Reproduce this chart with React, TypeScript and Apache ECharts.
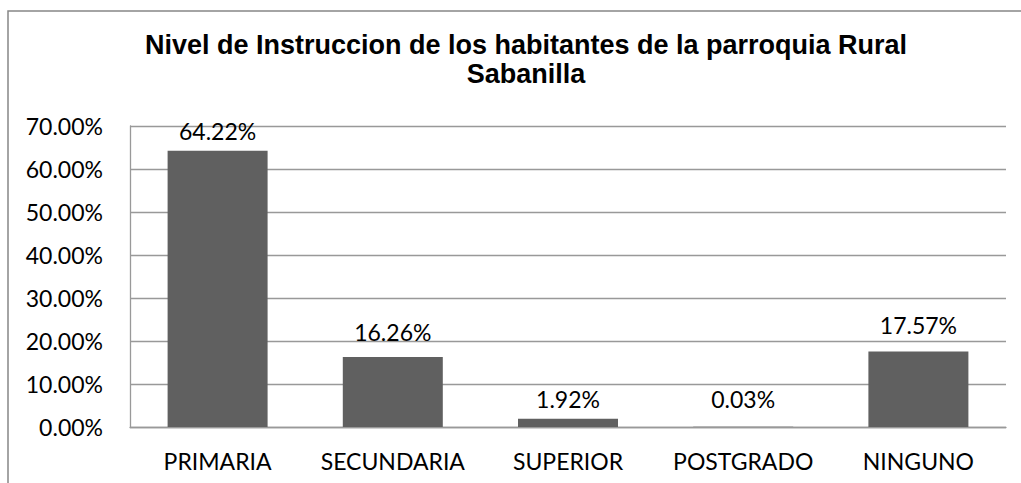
import React, { useEffect, useRef } from "react";
import * as echarts from "echarts";

const categories = ["PRIMARIA", "SECUNDARIA", "SUPERIOR", "POSTGRADO", "NINGUNO"];
const values = [64.22, 16.26, 1.92, 0.03, 17.57];
const yTicks = { min: 0, max: 70, interval: 10 };
const titleLines = [
  "Nivel de Instruccion de los habitantes de la parroquia Rural",
  "Sabanilla",
];
const labelDistances = [8, 14, 8, 16, 15];

const LABEL_FONT = "Lato, 'Open Sans', sans-serif";
const TITLE_FONT = "'Liberation Sans', Arial, sans-serif";

export default function App() {
  const ref = useRef<HTMLDivElement>(null);

  useEffect(() => {
    document.body.style.margin = "0";
    const chart = echarts.init(ref.current!, null, { renderer: "svg" });
    chart.setOption({
      animation: false,
      backgroundColor: "#ffffff",
      graphic: [
        {
          type: "rect",
          shape: { x: 8, y: 11, width: 1100, height: 600 },
          style: { fill: "none", stroke: "#878787", lineWidth: 1.5 },
          silent: true,
        },
        {
          type: "text",
          x: 526,
          y: 58,
          style: {
            text: titleLines[0],
            font: `bold 27px ${TITLE_FONT}`,
            fill: "#000000",
            textAlign: "center",
            textVerticalAlign: "bottom",
          },
        },
        {
          type: "text",
          x: 526,
          y: 87,
          style: {
            text: titleLines[1],
            font: `bold 27px ${TITLE_FONT}`,
            fill: "#000000",
            textAlign: "center",
            textVerticalAlign: "bottom",
          },
        },
      ],
      grid: { left: 130, right: 15, top: 126, bottom: 56, containLabel: false },
      xAxis: {
        type: "category",
        data: categories,
        axisLine: { show: true, lineStyle: { color: "#999999", width: 1.3 } },
        axisTick: { show: false },
        axisLabel: {
          interval: 0,
          margin: 22,
          color: "#000000",
          fontFamily: LABEL_FONT,
          fontSize: 23,
        },
      },
      yAxis: {
        type: "value",
        min: yTicks.min,
        max: yTicks.max,
        interval: yTicks.interval,
        axisLine: { show: true, lineStyle: { color: "#999999", width: 1.3 } },
        axisTick: { show: false },
        splitLine: { show: true, lineStyle: { color: "#999999", width: 1.3 } },
        axisLabel: {
          margin: 27,
          color: "#000000",
          fontFamily: LABEL_FONT,
          fontSize: 23,
          formatter: (v: number) => v.toFixed(2) + "%",
        },
      },
      series: [
        {
          type: "bar",
          barWidth: 100,
          itemStyle: { color: "#606060" },
          data: values.map((v, i) => ({
            value: v,
            label: { distance: labelDistances[i] },
          })),
          label: {
            show: true,
            position: "top",
            color: "#000000",
            fontFamily: LABEL_FONT,
            fontSize: 23,
            formatter: (p: any) => Number(p.value).toFixed(2) + "%",
          },
        },
      ],
    });
    return () => chart.dispose();
  }, []);

  return <div ref={ref} style={{ width: 1021, height: 483 }} />;
}
